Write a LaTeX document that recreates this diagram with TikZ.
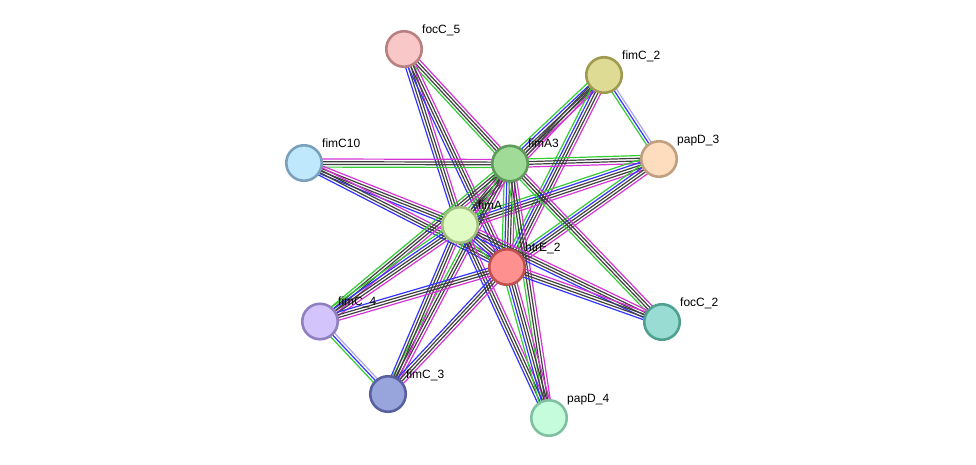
\documentclass[tikz,border=0pt]{standalone}
\usepackage{fontspec}
\setmainfont{Liberation Sans}
\usetikzlibrary{calc,backgrounds}
\definecolor{cG}{HTML}{33CC33}
\definecolor{cB}{HTML}{3333FF}
\definecolor{cK}{HTML}{404040}
\definecolor{cM}{HTML}{D633D6}
\definecolor{cL}{HTML}{A8A8F0}
\tikzset{
  eg/.style={draw=cG,line width=1.2pt},
  eb/.style={draw=cB,line width=1.2pt},
  ek/.style={draw=cK,line width=1.2pt},
  em/.style={draw=cM,line width=1.2pt},
  el/.style={draw=cL,line width=1.2pt},
  prot/.style={circle,minimum size=35.5pt,inner sep=0pt,line width=2.6pt},
  plabel/.style={anchor=base west,inner sep=0pt,font=\fontsize{12}{14}\selectfont}
}
\newcommand\strbundle[3]{%
  \foreach \c [count=\i] in {#3} {\xdef\nbundle{\i}}%
  \foreach \c [count=\i] in {#3} {%
    \pgfmathsetmacro\off{(\i-1-(\nbundle-1)/2)*2.7}%
    \draw[\c] ($(#1)!\off pt!90:(#2)$) -- ($(#2)!\off pt!-90:(#1)$);%
  }}
\begin{document}
\begin{tikzpicture}[x=1pt,y=-1pt]
\useasboundingbox (0,0) rectangle (976,464);
% nodes
\node[prot,fill={rgb,255:red,248;green,200;blue,200},draw={rgb,255:red,184;green,128;blue,128}] (focC5) at (404,49) {};
\node[prot,fill={rgb,255:red,222;green,220;blue,148},draw={rgb,255:red,160;green,154;blue,80}] (fimC2) at (604,75) {};
\node[prot,fill={rgb,255:red,253;green,221;blue,189},draw={rgb,255:red,192;green,160;blue,128}] (papD3) at (659,159) {};
\node[prot,fill={rgb,255:red,192;green,232;blue,252},draw={rgb,255:red,122;green,160;blue,188}] (fimC10) at (304,163) {};
\node[prot,fill={rgb,255:red,160;green,220;blue,152},draw={rgb,255:red,94;green,154;blue,92}] (fimA3) at (510,163.5) {};
\node[prot,fill={rgb,255:red,224;green,252;blue,196},draw={rgb,255:red,160;green,192;blue,128}] (fimA) at (460,225) {};
\node[prot,fill={rgb,255:red,255;green,144;blue,144},draw={rgb,255:red,192;green,80;blue,80}] (htrE2) at (507,267) {};
\node[prot,fill={rgb,255:red,212;green,196;blue,252},draw={rgb,255:red,144;green,128;blue,192}] (fimC4) at (320,321.5) {};
\node[prot,fill={rgb,255:red,152;green,220;blue,212},draw={rgb,255:red,80;green,160;blue,144}] (focC2) at (662,322) {};
\node[prot,fill={rgb,255:red,152;green,164;blue,220},draw={rgb,255:red,88;green,96;blue,160}] (fimC3) at (388,394) {};
\node[prot,fill={rgb,255:red,196;green,252;blue,220},draw={rgb,255:red,128;green,192;blue,160}] (papD4) at (549,418) {};
% labels
\node[plabel] (lfocC5) at (422,33) {focC\_5};
\node[plabel] (lfimC2) at (622,59) {fimC\_2};
\node[plabel] (lpapD3) at (677,143) {papD\_3};
\node[plabel] (lfimC10) at (322,147) {fimC10};
\node[plabel] (lfimA3) at (528,147.5) {fimA3};
\node[plabel] (lfimA) at (478,209) {fimA};
\node[plabel] (lhtrE2) at (525,251) {htrE\_2};
\node[plabel] (lfimC4) at (338,305.5) {fimC\_4};
\node[plabel] (lfocC2) at (680,306) {focC\_2};
\node[plabel] (lfimC3) at (406,378) {fimC\_3};
\node[plabel] (lpapD4) at (567,402) {papD\_4};
% edges
\begin{pgfonlayer}{background}
\strbundle{focC5}{fimA3}{eg,ek,ek,em}
\strbundle{focC5}{fimA}{eb,ek,ek,em}
\strbundle{focC5}{htrE2}{eb,ek,ek,em}
\strbundle{fimC2}{fimA3}{eg,eb,ek,ek,em}
\strbundle{fimC2}{fimA}{ek,ek,em}
\strbundle{fimC2}{htrE2}{eg,eb,ek,ek,em}
\strbundle{fimC2}{papD3}{eg,eb,el}
\strbundle{papD3}{fimA3}{eg,ek,ek,em}
\strbundle{papD3}{fimA}{eg,eb,ek,ek,em}
\strbundle{papD3}{htrE2}{eg,eb,ek,ek,em}
\strbundle{fimC10}{fimA3}{eg,ek,ek,em}
\strbundle{fimC10}{fimA}{eb,ek,ek,em}
\strbundle{fimC10}{htrE2}{eb,ek,ek,em}
\strbundle{fimA3}{fimA}{eg,ek,ek,em}
\strbundle{fimA3}{htrE2}{eg,eb,ek,ek,em}
\strbundle{fimA3}{fimC4}{eg,ek,ek,em}
\strbundle{fimA3}{fimC3}{eg,ek,ek,em}
\strbundle{fimA3}{focC2}{eg,ek,ek,em}
\strbundle{fimA3}{papD4}{eg,ek,ek,em}
\strbundle{fimA}{htrE2}{eg,eb,ek,ek,em}
\strbundle{fimA}{fimC4}{eg,eb,ek,ek,em}
\strbundle{fimA}{fimC3}{eb,ek,ek,em}
\strbundle{fimA}{focC2}{eb,ek,ek,em}
\strbundle{fimA}{papD4}{eb,ek,ek,em}
\strbundle{htrE2}{fimC4}{eb,ek,ek,em}
\strbundle{htrE2}{fimC3}{eb,ek,ek,em}
\strbundle{htrE2}{focC2}{eb,ek,ek,em}
\strbundle{htrE2}{papD4}{eg,eb,ek,ek,em}
\strbundle{fimC4}{fimC3}{eg,eb,el}
\end{pgfonlayer}
\end{tikzpicture}
\end{document}
